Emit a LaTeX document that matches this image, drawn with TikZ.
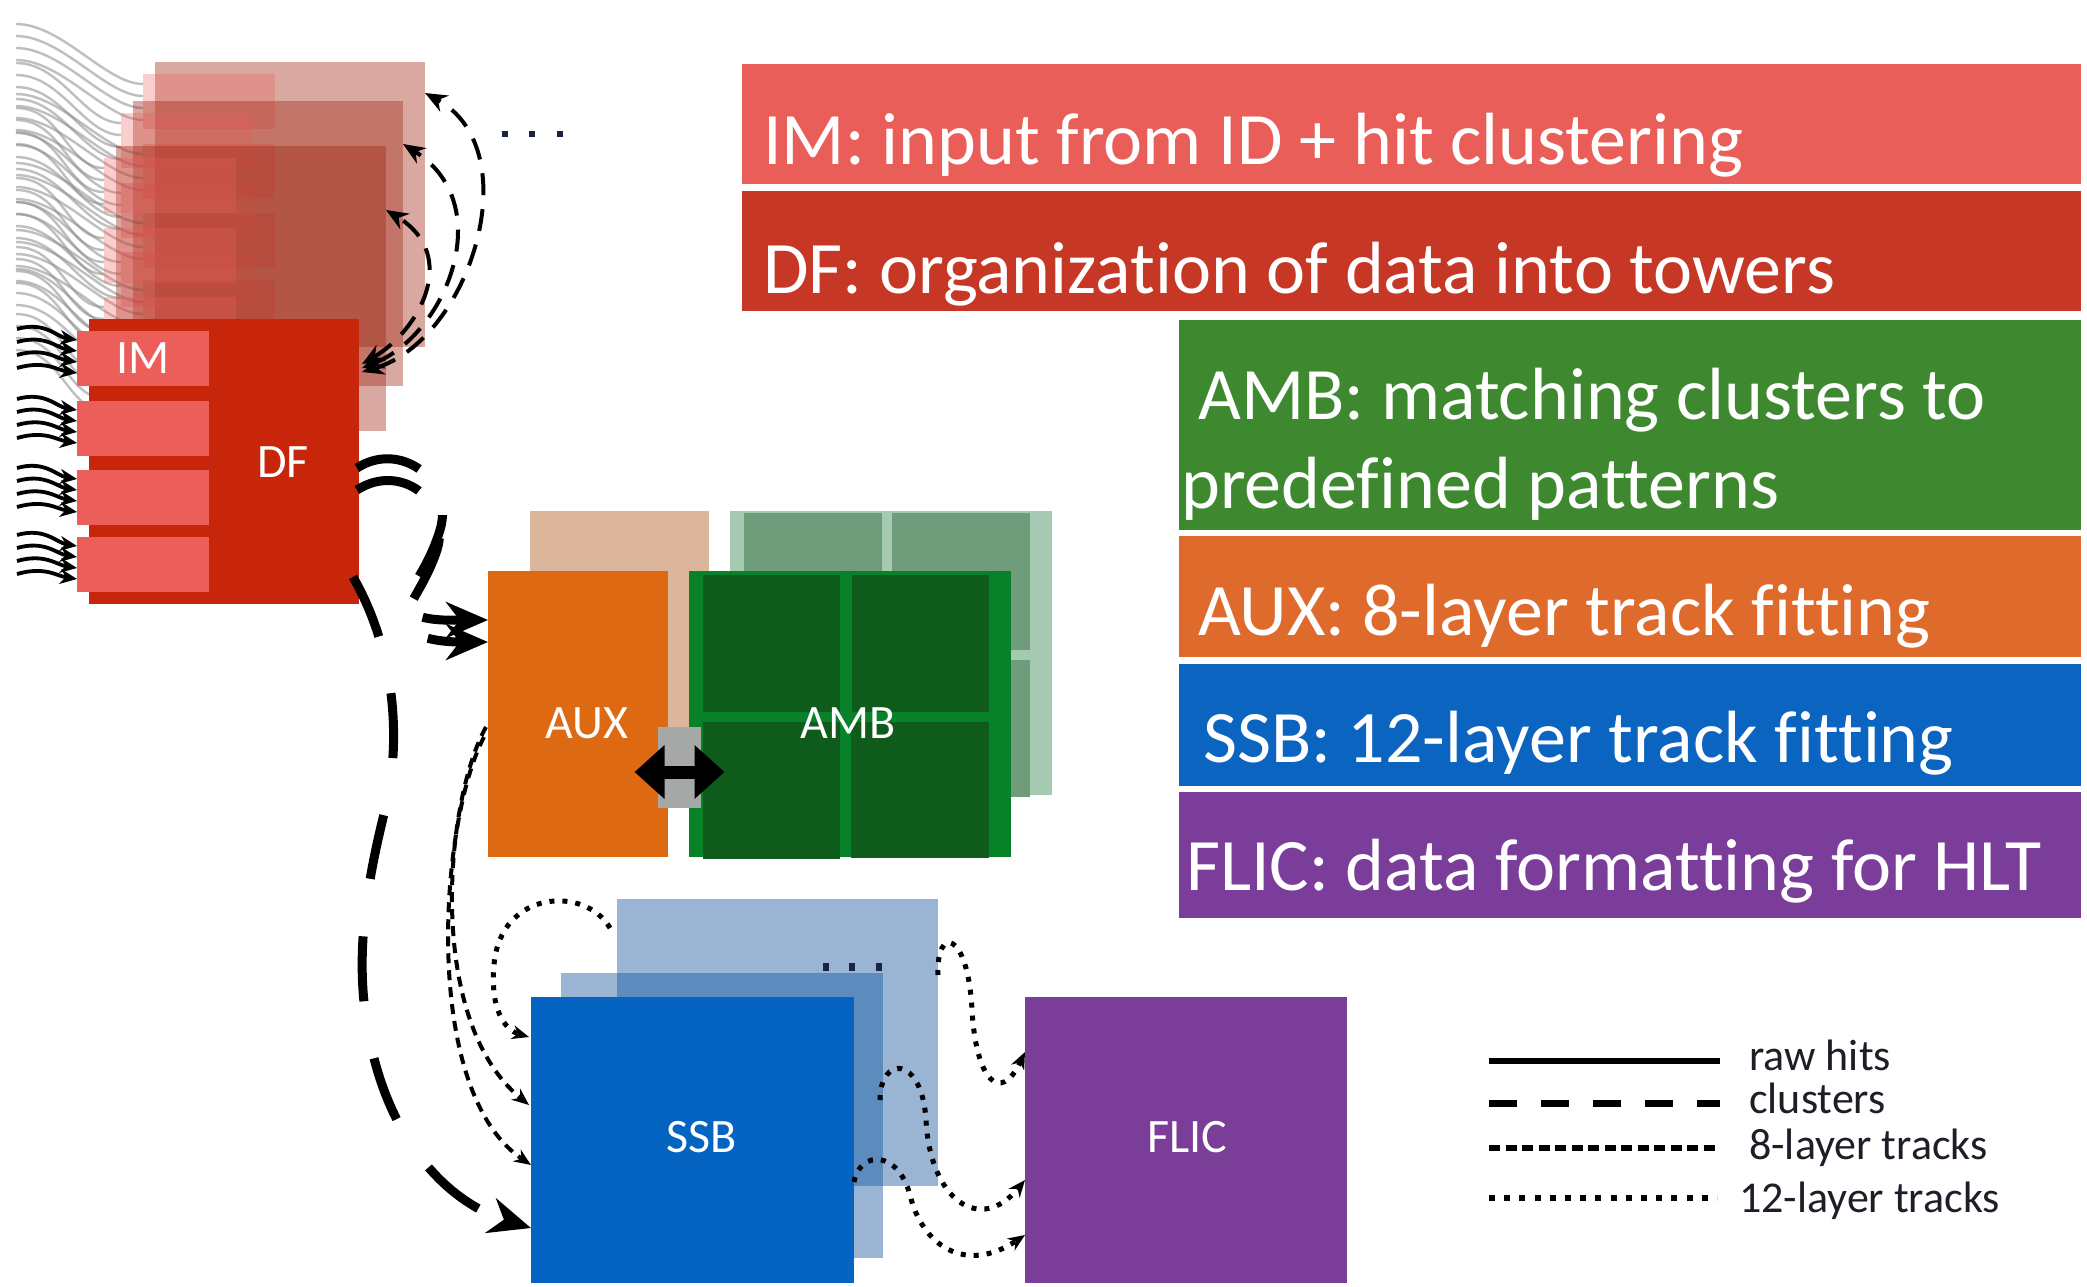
\documentclass[tikz,border=0pt]{standalone}
\usepackage{fontspec}
\setmainfont[Ligatures=NoCommon]{Carlito}
\usetikzlibrary{arrows.meta,calc}
\definecolor{imred}{RGB}{236,94,89}
\definecolor{dfred}{RGB}{199,38,10}
\definecolor{copyred}{RGB}{160,40,20}
\definecolor{barim}{RGB}{234,94,89}
\definecolor{bardf}{RGB}{198,56,37}
\definecolor{baramb}{RGB}{62,137,48}
\definecolor{baraux}{RGB}{222,107,44}
\definecolor{barssb}{RGB}{11,100,192}
\definecolor{barflic}{RGB}{122,62,154}
\definecolor{auxor}{RGB}{221,106,18}
\definecolor{auxback}{RGB}{219,182,155}
\definecolor{ambedge}{RGB}{8,130,40}
\definecolor{ambtile}{RGB}{14,91,28}
\definecolor{ambbackedge}{RGB}{166,201,177}
\definecolor{ambbacktile}{RGB}{111,157,123}
\definecolor{linkgrey}{RGB}{166,168,167}
\definecolor{ssbblue}{RGB}{5,99,193}
\definecolor{ssbpale}{RGB}{154,181,211}
\definecolor{ssbmid}{RGB}{92,140,190}
\definecolor{flicpurple}{RGB}{122,61,152}
\definecolor{dotnavy}{RGB}{25,35,70}
\definecolor{legtext}{RGB}{30,30,40}
\begin{document}
\begin{tikzpicture}[x=1pt,y=-1pt,
 blk/.style={rectangle, draw=none, inner sep=0pt, outer sep=0pt},
 lbl/.style={text=white, font=\fontsize{48}{52}\selectfont, inner sep=0pt},
 ttl/.style={text=white, font=\fontsize{74}{80}\selectfont, inner sep=0pt, anchor=base west},
 legtxt/.style={text=legtext, font=\fontsize{44}{48}\selectfont, inner sep=0pt, anchor=base west},
 wave/.style={draw=black!45, line width=2.4pt, opacity=0.55},
 hit/.style={draw=black, line width=3.8pt, -{Stealth[length=17pt,width=15pt]}},
 clu/.style={draw=black, line width=4pt, dash pattern=on 22pt off 14pt, {Stealth[length=22pt,width=18pt]}-{Stealth[length=22pt,width=18pt]}},
 cluthick/.style={draw=black, line width=9pt, dash pattern=on 66pt off 54pt, -{Stealth[length=42pt,width=36pt]}},
 eight/.style={draw=black, line width=4pt, dash pattern=on 10pt off 7pt, -{Stealth[length=17pt,width=14pt]}},
 twelve/.style={draw=black, line width=5pt, dash pattern=on 5pt off 8pt, -{Stealth[length=17pt,width=14pt]}},
]
\useasboundingbox (0,0) rectangle (2087,1286);
\fill[white] (0,0) rectangle (2087,1286);

% ---- grey input waves to the stacked boards
\foreach \dx/\dy in {66/-257,44/-218,27/-173}
 \foreach \by in {331,401,470,537}
  \foreach \i in {0,1,2,3}
   \draw[wave] (16,{\by+\dy+\i*12-50}) .. controls (62,{\by+\dy+\i*12-50}) and ({40+\dx},{\by+\dy+10+\i*12}) .. ({77+\dx},{\by+\dy+10+\i*12});

% ---- stacked copies of the DF board
\foreach \nm/\dx/\dy in {cA/66/-257, cB/44/-218, cC/27/-173} {
  \begin{scope}[shift={(\dx,\dy)}]
   \node[blk, fill=copyred, fill opacity=0.4, minimum width=270pt, minimum height=285pt] (\nm) at (224,461.5) {};
   \foreach \yy in {358.5,428.5,497.5,564.5}
     \fill[imred, opacity=0.3] (77,\yy-27.5) rectangle (209,\yy+27.5);
  \end{scope}
}

% ---- front DF board
\node[blk, fill=dfred, minimum width=270pt, minimum height=285pt] (DF) at (224,461.5) {};
\foreach \j/\yy in {1/358.5,2/428.5,3/497.5,4/564.5}
  \node[blk, fill=imred, minimum width=132pt, minimum height=55pt] (im\j) at (143,\yy) {};
\node[lbl] (imt) at (im1) {IM};
\node[lbl] (dft) at (283,462) {DF};

% raw hits into IM
\foreach \j in {1,2,3,4}
 \foreach \i in {0,1,2,3}
  \draw[hit] ($(im\j.north west)+(-60,{-2+\i*13})$) .. controls +(28,-8) and +(-20,-3) .. ($(im\j.north west)+(0,{9+\i*11})$);

% clusters DF <-> stacked boards
\draw[clu] ($(DF.north east)+(3,53)$) .. controls (470,340) and (530,150) .. ($(cA.north east)+(0,31)$);
\draw[clu] ($(DF.north east)+(3,49)$) .. controls (445,335) and (500,205) .. ($(cB.north east)+(0,43)$);
\draw[clu] ($(DF.north east)+(3,45)$) .. controls (420,330) and (460,255) .. ($(cC.north east)+(0,64)$);
\foreach \xx in {505,532,560}
  \fill[dotnavy] (\xx-3,131) rectangle (\xx+3,137);

% ---- title bars
\node[blk, fill=barim, minimum width=1339pt, minimum height=120pt] (imbar) at (1411.5,124) {};
\node[blk, fill=bardf, minimum width=1339pt, minimum height=120pt] (dfbar) at (1411.5,251) {};
\node[blk, fill=baramb, minimum width=902pt, minimum height=210pt] (ambbar) at (1630,425) {};
\node[blk, fill=baraux, minimum width=902pt, minimum height=121pt] (auxbar) at (1630,596.5) {};
\node[blk, fill=barssb, minimum width=902pt, minimum height=122pt] (ssbbar) at (1630,725) {};
\node[blk, fill=barflic, minimum width=902pt, minimum height=126pt] (flicbar) at (1630,855) {};
\node[ttl] (imtitle) at (763,164) {IM: input from ID + hit clustering};
\node[ttl] (dftitle) at (763,293) {DF: organization of data into towers};
\node[ttl] (ambt1) at (1198,419) {AMB: matching clusters to};
\node[ttl] (ambt2) at (1181,508) {predefined patterns};
\node[ttl] (auxt) at (1198,635) {AUX: 8-layer track fitting};
\node[ttl] (ssbt) at (1203,762) {SSB: 12-layer track fitting};
\node[ttl] (flict) at (1186,890) {FLIC: data formatting for HLT};

% ---- AUX / AMB
\node[blk, fill=auxback, minimum width=179pt, minimum height=284pt] (AUXb) at (619.5,653) {};
\node[blk, fill=ambbackedge, minimum width=322pt, minimum height=284pt] (AMBb) at (891,653) {};
\foreach \tx/\ty in {813/581.5, 961/581.5, 813/728, 961/728}
  \fill[ambbacktile] (\tx-69,\ty-68.5) rectangle (\tx+69,\ty+68.5);
\node[blk, fill=auxor, minimum width=180pt, minimum height=286pt] (AUX) at (578,714) {};
\node[blk, fill=ambedge, minimum width=322pt, minimum height=286pt] (AMB) at (850,714) {};
\foreach \tx/\ty in {771.5/643.5, 920/643.5, 771.5/790}
  \fill[ambtile] (\tx-68.5,\ty-68.5) rectangle (\tx+68.5,\ty+68.5);
\fill[ambtile] (851,722) rectangle (989,858);
\node[lbl] (auxl) at (587,723) {AUX};
\node[lbl] (ambl) at (848,723) {AMB};
\node[blk, fill=linkgrey, minimum width=43pt, minimum height=81pt] (link) at (679.5,767.5) {};
\draw[line width=13pt, {Triangle[length=30pt,width=52pt]}-{Triangle[length=30pt,width=52pt]}]
  ($(link.center)+(-45,4.5)$) -- ($(link.center)+(45,4.5)$);

% ---- SSB / FLIC
\node[blk, fill=ssbpale, minimum width=321pt, minimum height=287pt] (SSBb) at (777.5,1042.5) {};
\node[blk, fill=ssbpale, minimum width=322pt, minimum height=285pt] (SSBm) at (722,1115.5) {};
\fill[ssbmid] (617,973) rectangle (883,1186);
\foreach \xx in {826,852,879}
  \fill[dotnavy] (\xx-3,963) rectangle (\xx+3,971);
\node[blk, fill=ssbblue, minimum width=323pt, minimum height=286pt] (SSB) at (692.5,1140) {};
\node[blk, fill=flicpurple, minimum width=322pt, minimum height=286pt] (FLIC) at (1186,1140) {};
\node[lbl] (ssbl) at (702,1137) {SSB};
\node[lbl] (flicl) at (1187,1137) {FLIC};

% ---- connectors
\draw[cluthick] ($(DF.north east)+(-2,149)$) .. controls (400,440) and (455,480) .. (440,530)
   .. controls (425,580) and (395,600) .. (410,612) .. controls (425,622) and (455,620) .. ($(AUX.north west)+(0,49)$);
\draw[cluthick] ($(DF.north east)+(-2,171)$) .. controls (400,462) and (452,500) .. (437,550)
   .. controls (422,595) and (395,615) .. (410,630) .. controls (425,642) and (455,642) .. ($(AUX.north west)+(0,71)$);
\draw[cluthick, dash pattern=on 65pt off 58pt] ($(DF.north east)+(-6,258)$) .. controls (395,650) and (402,740) .. (385,810)
   .. controls (365,890) and (355,960) .. (368,1030) .. controls (385,1130) and (440,1200) .. ($(SSB.north west)+(0,231)$);

\draw[eight] ($(AUX.north west)+(-2,156)$) .. controls (445,800) and (425,1020) .. ($(SSB.north west)+(-2,108)$);
\draw[eight] ($(AUX.north west)+(-4,166)$) .. controls (440,820) and (420,1090) .. ($(SSB.north west)+(0,168)$);

\draw[twelve] ($(SSBb.north west)+(-7,29)$) .. controls (585,885) and (500,890) .. (494,965)
   .. controls (490,1010) and (505,1030) .. ($(SSB.north west)+(-2,40)$);
\draw[twelve] ($(SSBb.north east)+(0,76)$) .. controls (936,925) and (968,930) .. (972,1010)
   .. controls (976,1080) and (1000,1105) .. ($(FLIC.north west)+(0,55)$);
\draw[twelve] ($(SSBm.north east)+(-3,127)$) .. controls (880,1055) and (922,1055) .. (926,1120)
   .. controls (930,1200) and (980,1235) .. ($(FLIC.north west)+(0,183)$);
\draw[twelve] ($(SSB.north east)+(0,185)$) .. controls (860,1150) and (898,1150) .. (910,1195)
   .. controls (922,1245) and (965,1275) .. ($(FLIC.north west)+(0,238)$);

% ---- legend
\coordinate (r0) at (1489,1061); \coordinate (r1) at (1720,1061);
\coordinate (c0) at (1489,1103); \coordinate (c1) at (1720,1103);
\coordinate (e0) at (1489,1148); \coordinate (e1) at (1720,1148);
\coordinate (t0) at (1489,1198); \coordinate (t1) at (1717,1198);
\draw[line width=6pt] (r0) -- (r1);
\draw[line width=7pt, dash pattern=on 28pt off 24pt] (c0) -- (c1);
\draw[line width=6pt, dash pattern=on 11pt off 5.5pt] (e0) -- (e1);
\draw[line width=6pt, dash pattern=on 6pt off 9.2pt] (t0) -- (t1);
\node[legtxt] (lraw) at (1749,1070) {raw hits};
\node[legtxt] (lclu) at (1749,1113) {clusters};
\node[legtxt] (l8) at (1749,1159) {8-layer tracks};
\node[legtxt] (l12) at (1739,1212) {12-layer tracks};
\end{tikzpicture}
\end{document}
